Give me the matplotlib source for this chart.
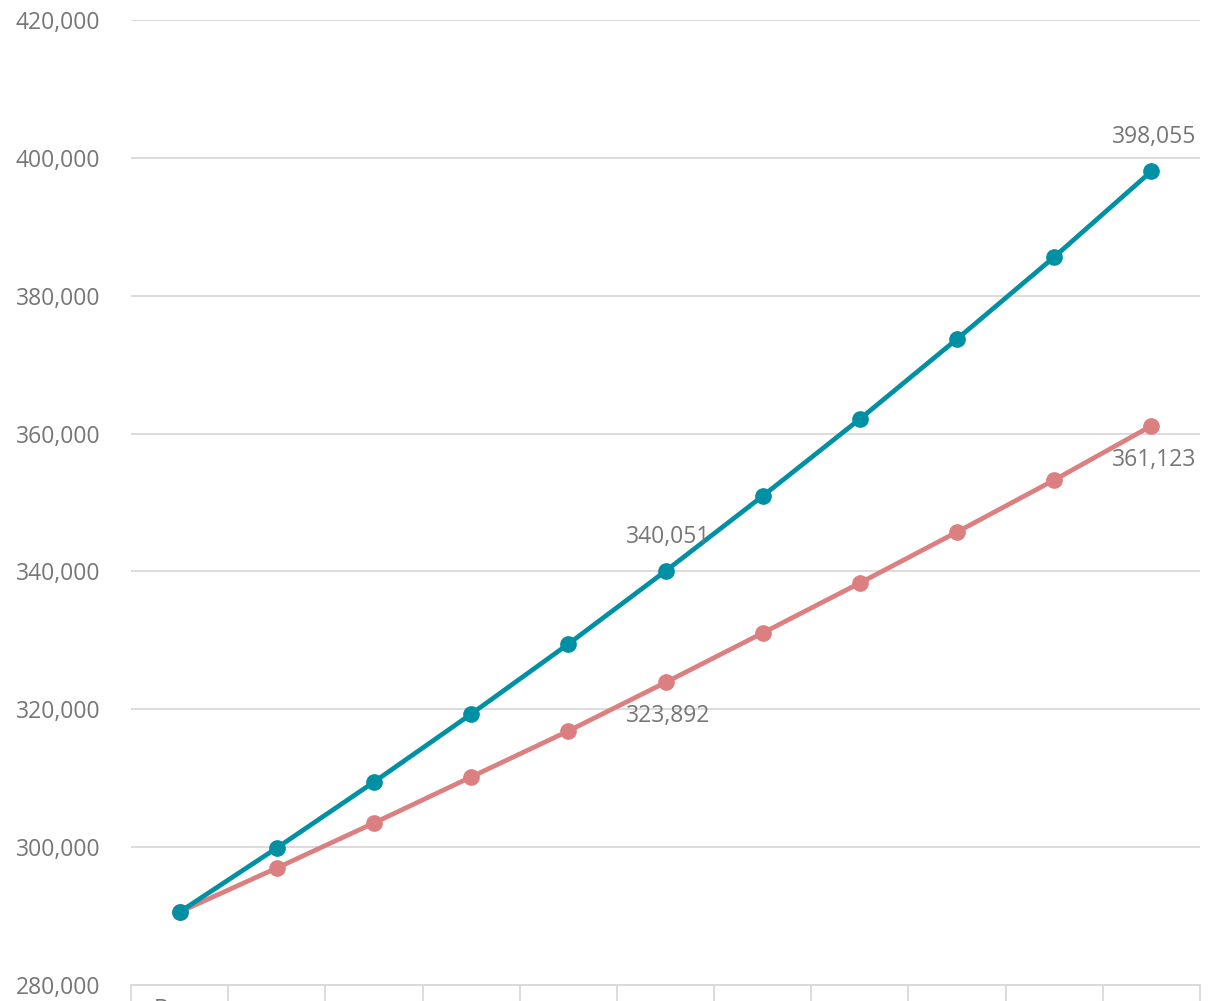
import matplotlib
matplotlib.use("Agg")
import matplotlib.pyplot as plt
from matplotlib.ticker import FuncFormatter, FixedLocator

# kategori etiketleri (alt kısım resimde kesik)
categories = ["Base", "", "", "", "", "", "", "", "", "", ""]

# iki seri: hızlı artış (turkuaz) ve yavaş artış (pembe)
high_values = [290590, 299880, 309450, 319310, 329470, 340051,
               350940, 362110, 373720, 385620, 398055]
low_values = [290590, 296970, 303500, 310180, 316850, 323892,
              331070, 338320, 345720, 353260, 361123]

teal = "#0090A4"
pink = "#DB7F80"
grey_text = "#767676"
grid_grey = "#D9D9D9"

plt.rcParams["font.family"] = ["Open Sans", "DejaVu Sans"]
fs = 16.5

fig = plt.figure(figsize=(12.18, 10.01), dpi=100)
ax = fig.add_axes([131 / 1218, 16 / 1001, 1069 / 1218, 965 / 1001])

x = list(range(len(categories)))
ax.plot(x, high_values, color=teal, linewidth=3.4, marker="o", markersize=11, zorder=3)
ax.plot(x, low_values, color=pink, linewidth=3.4, marker="o", markersize=11, zorder=2)

ax.set_xlim(-0.5, len(categories) - 0.5)
ax.set_ylim(280000, 420000)
ax.set_yticks(range(280000, 420001, 20000))
ax.yaxis.set_major_formatter(FuncFormatter(lambda v, p: f"{int(v):,}"))
ax.yaxis.grid(True, color=grid_grey, linewidth=1.3)
ax.set_axisbelow(True)

# x ekseni: ayırıcı çizgiler büyük tik, etiketler küçük tik
ax.xaxis.set_major_locator(FixedLocator([i - 0.5 for i in range(len(categories) + 1)]))
ax.xaxis.set_minor_locator(FixedLocator(x))
ax.set_xticklabels([""] * (len(categories) + 1))
ax.set_xticklabels(categories, minor=True)
ax.tick_params(axis="x", which="major", length=20, width=1.3, color=grid_grey)
ax.tick_params(axis="x", which="minor", length=0, pad=9, labelsize=fs, labelcolor=grey_text)
ax.tick_params(axis="y", length=0, pad=22, labelsize=fs, labelcolor=grey_text)

for s in ["left", "right", "top"]:
    ax.spines[s].set_visible(False)
ax.spines["bottom"].set_color(grid_grey)
ax.spines["bottom"].set_linewidth(1.3)

# veri etiketleri
lab = dict(fontsize=fs, color=grey_text, ha="center")
ax.annotate(f"{high_values[5]:,}", (5, high_values[5]), xytext=(3, 22),
            textcoords="offset pixels", va="bottom", **lab)
ax.annotate(f"{low_values[5]:,}", (5, low_values[5]), xytext=(3, -22),
            textcoords="offset pixels", va="top", **lab)
ax.annotate(f"{high_values[-1]:,}", (10, high_values[-1]), xytext=(3, 22),
            textcoords="offset pixels", va="bottom", **lab)
ax.annotate(f"{low_values[-1]:,}", (10, low_values[-1]), xytext=(3, -22),
            textcoords="offset pixels", va="top", **lab)

fig.savefig("out.png", dpi=100)
